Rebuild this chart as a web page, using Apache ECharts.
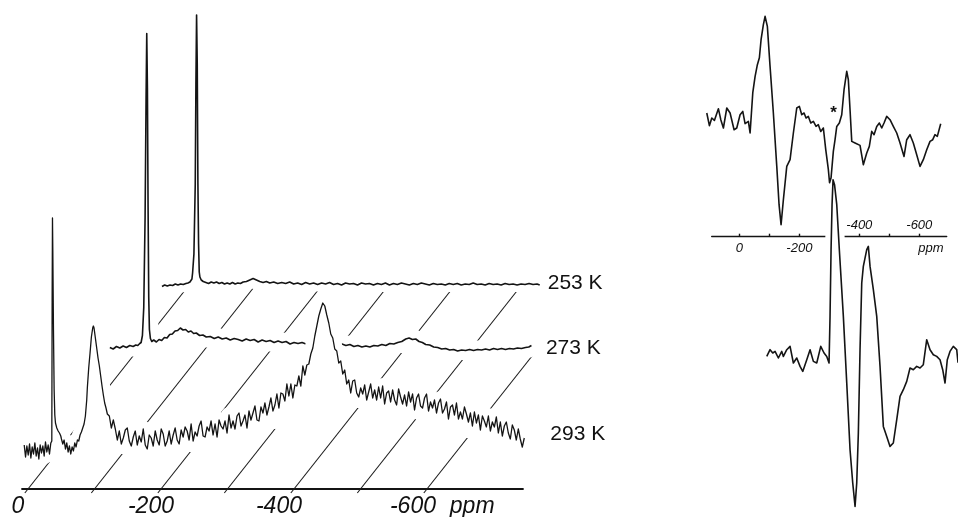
<!DOCTYPE html>
<html><head><meta charset="utf-8">
<script src="https://cdn.jsdelivr.net/npm/echarts@6/dist/echarts.min.js"></script>
<style>html,body{margin:0;padding:0;background:#fff}#c{width:958px;height:517px}</style>
</head><body><div id="c"></div>
<script>
// ---------------- DATA (ppm, intensity above own baseline) ----------------
const trace293 = [
[52,5],[50,-7],[48,4],[46,-5],[44,6],[42,-8],[40,3],[38,-4],[36,7],[34,-6],[32,2],[30,-9],[28,5],[26,-3],[24,4],[22,-6],[20,8],[18,-2],[16,5],[14,-4],[12,7],[10.5,9],[10,150],[9.5,232],[9,200],[8,120],[7,60],[6,35],[5,27],[3,22],[1,19],[-1,17],[-3,14],[-4,11],[-6,6],[-8,10],[-10,1],[-12,7],[-14,-2],[-16,4],[-18,-4],[-20,3],[-22,-1],[-24,7],[-26,3],[-28,10],[-30,9],[-32,15],[-34,18],[-36,22],[-38,26],[-40,34],[-42,50],[-43,63],[-45,82],[-47,97],[-49,113],[-51,122],[-52,124],[-53,122],[-55,112],[-57,102],[-59,92],[-61,84],[-63,74],[-65,64],[-67,55],[-69,47],[-71,42],[-73,36],
[-76,34],[-79,22],[-82,30],[-85,21],[-88,10],[-91,19],[-94,6],[-97,12],[-100,20],[-103,22],[-106,9],[-109,4],[-112,13],[-115,19],[-118,5],[-121,14],[-124,8],[-127,21],[-130,5],[-133,1],[-136,15],[-139,12],[-142,4],[-145,19],[-148,10],[-151,5],[-154,21],[-157,16],[-160,4],[-163,9],[-166,19],[-169,6],[-172,15],[-175,22],[-178,10],[-181,6],[-184,20],[-187,13],[-190,23],[-193,19],[-196,10],[-199,26],[-202,9],[-205,18],[-208,14],[-211,24],[-214,29],[-217,14],[-220,13],[-223,23],[-226,19],[-229,29],[-232,15],[-235,26],[-238,13],[-241,30],[-244,24],[-247,21],[-250,29],[-253,17],[-256,35],[-259,22],[-262,29],[-265,21],[-268,34],[-271,37],[-274,24],[-277,29],[-280,35],[-283,22],[-286,39],[-289,30],[-292,37],[-295,44],[-298,30],[-301,29],[-304,43],[-307,37],[-310,47],[-313,35],[-316,43],[-319,52],[-322,39],[-325,45],[-328,56],[-331,42],[-334,57],[-337,56],[-340,49],[-343,66],[-346,54],[-349,66],[-352,52],[-355,65],[-358,64],[-361,74],[-364,64],[-367,84],[-370,75],[-373,85],[-376,86],[-379,96],[-382,102],[-385,114],[-388,124],[-391,134],[-394,141],[-397,147],[-400,144],[-403,135],[-406,127],[-409,116],[-412,112],[-415,101],[-418,99],[-421,87],[-424,89],[-427,76],[-430,80],[-433,66],[-436,70],[-439,57],[-442,69],[-445,70],[-448,57],[-451,53],[-454,62],[-457,56],[-460,65],[-463,50],[-466,58],[-469,66],[-472,52],[-475,60],[-478,50],[-481,63],[-484,52],[-487,64],[-490,46],[-493,57],[-496,59],[-499,48],[-502,60],[-505,50],[-508,45],[-511,61],[-514,53],[-517,46],[-520,55],[-523,44],[-526,58],[-529,48],[-532,56],[-535,40],[-538,52],[-541,56],[-544,44],[-547,42],[-550,52],[-553,56],[-556,39],[-559,48],[-562,42],[-565,50],[-568,37],[-571,47],[-574,51],[-577,37],[-580,41],[-583,48],[-586,31],[-589,43],[-592,45],[-595,35],[-598,47],[-601,31],[-604,38],[-607,31],[-610,43],[-613,36],[-616,28],[-619,37],[-622,24],[-625,38],[-628,27],[-631,35],[-634,20],[-637,34],[-640,29],[-643,23],[-646,34],[-649,19],[-652,28],[-655,23],[-658,33],[-661,17],[-664,28],[-667,14],[-670,24],[-673,28],[-676,17],[-679,11],[-682,25],[-685,20],[-688,10],[-691,21],[-694,11],[-697,3],[-700,12]
];
const trace273 = [
[45,0],[40,-1.5],[35,1],[30,-0.5],[25,1.5],[20,0],[15,2],[10,1],[6,2.5],[3,2],[0,4],[-2,5],[-4,12],[-6,40],[-8,130],[-9.5,250],[-10.5,314],[-11.5,260],[-12.5,140],[-13.5,50],[-14.5,18],[-16,9],[-18,6],[-21,7.5],[-25,5.5],[-29,8],[-33,7],[-37,10],[-41,9.5],[-45,13],[-49,13.5],[-53,16.5],[-57,17],[-61,19.5],[-65,17.5],[-69,18],[-73,15.5],[-77,16.5],[-81,14],[-85,14.5],[-90,12],[-95,12.5],[-100,10.5],[-106,11],[-112,9],[-118,10.5],[-124,8.5],[-130,9.5],[-136,7.5],[-142,9],[-148,8],[-154,6.5],[-160,8.5],[-166,7],[-172,8],[-178,5.5],[-184,7.5],[-190,6],[-196,7],[-202,5],[-208,6.5],[-214,5],[-220,6],[-226,3.5],[-232,5],[-238,4],[-244,5],[-250,3.5],[-256,4.5],[-262,3],[-268,4.5],[-274,3.5],[-280,4],[-286,3],[-292,4],[-298,2.5],[-304,3.5],[-310,2],[-316,3],[-322,1],[-328,2],[-334,0.5],[-340,1.5],[-346,0.5],[-352,2],[-358,1.5],[-364,3],[-370,2],[-376,4],[-382,3.5],[-388,5],[-394,6],[-400,8.5],[-405,9.5],[-410,8],[-415,8.5],[-420,6],[-425,5],[-430,3],[-436,2.5],[-442,0.5],[-448,0],[-454,-1.5],[-460,-1],[-466,-2.5],[-472,-2],[-478,-3.5],[-484,-2.5],[-490,-3],[-496,-2],[-502,-3],[-508,-2],[-514,-2.5],[-520,-1.5],[-526,-2.5],[-532,-1],[-538,-2],[-544,-1],[-550,-2],[-556,-1],[-562,-1.5],[-568,-0.5],[-574,-1],[-580,0],[-585,0.5],[-589,2]
];
const trace253 = [
[42,-2.5],[38,-1],[34,-2],[30,-1],[26,-1.5],[22,0],[18,-1],[14,0],[10,-0.5],[6,0.5],[3,1],[0,2],[-3,5],[-4,11],[-6,30],[-8,100],[-9,200],[-10,269],[-11,220],[-12,100],[-13,40],[-14,12],[-15,7],[-17,4],[-20,2.5],[-24,1.5],[-28,0.5],[-32,2],[-36,1],[-40,2],[-44,0.5],[-48,1.5],[-52,0],[-56,1],[-60,0],[-64,1.5],[-68,0],[-72,1],[-76,0.5],[-80,2],[-85,2.5],[-90,4],[-95,5.5],[-100,4],[-105,2.5],[-110,1.5],[-115,2.5],[-120,1],[-126,2],[-132,0.5],[-138,1.5],[-144,0.5],[-150,2],[-156,0],[-162,1],[-168,-0.5],[-174,1.5],[-180,0],[-186,1],[-192,-0.5],[-198,1],[-204,0],[-210,1.5],[-216,-0.5],[-222,0.5],[-228,-1],[-234,1],[-240,0],[-246,0.5],[-252,-1],[-258,1],[-264,0],[-270,0.5],[-276,-1],[-282,0.5],[-288,-0.5],[-294,1],[-300,-1],[-306,0.5],[-312,-0.5],[-318,1],[-324,0],[-330,-1],[-336,0.5],[-342,-0.5],[-348,1],[-354,0],[-360,-1],[-366,0.5],[-372,-0.5],[-378,0],[-384,-1],[-390,0.5],[-396,-0.5],[-402,0.5],[-408,-1],[-414,0],[-420,-0.5],[-426,1],[-432,-0.5],[-438,0],[-444,-1],[-450,0.5],[-456,-0.5],[-462,0],[-468,-1],[-474,0.5],[-480,-0.5],[-486,0],[-492,-1],[-498,0],[-504,-0.5],[-510,0.5],[-516,-0.5],[-522,0],[-526,-1]
];
const traceNames = ['293 K', '273 K', '253 K'];
const guideTicks = [0, -100, -200, -300, -400, -500, -600];
const leftLabelValues = [0, -200, -400, -600, -668];
const leftLabelText = ['0', '-200', '-400', '-600', 'ppm'];

const rightTop = [
[108.7,6.7],[100,-6],[92,1.7],[83.3,-0.7],[70,11],[62,0],[53.3,-8.3],[42,11.7],[31,6.7],[17.7,-10],[8.7,-8.3],[-2.3,5],[-11.3,8.3],[-19,-4],[-30,-1.7],[-35.7,-13.3],[-38,-3],[-44.7,27],[-52.3,43],[-60,55],[-66.7,62],[-72.3,80],[-80,95],[-85.7,103.3],[-93.3,93.3],[-102.3,53.3],[-113.3,6.7],[-124.7,-46.7],[-132.3,-85],[-139,-105],[-146.7,-80],[-158,-46.7],[-169,-40],[-180,-13.3],[-191.3,11.7],[-200,13.3],[-208,5],[-215.7,6.7],[-222.3,1.7],[-230,3.3],[-238,-3.3],[-246.7,-1.7],[-255.7,-6.7],[-263.3,-5],[-271.3,-11.7],[-280,-8.3],[-288,-30],[-296.7,-50],[-300.7,-63],[-305.7,-58],[-313.3,-31.7],[-319,-20],[-324.7,-6.7],[-333.3,-3.3],[-341.3,5],[-349,30],[-358,48.3],[-363.3,40],[-369,10],[-374.7,-21.7],[-385.7,-23.3],[-402.3,-25.7],[-413.3,-45],[-424.7,-33.3],[-433.3,-26.7],[-441.3,-11.7],[-449,-15],[-458,-6.7],[-466.7,-3.3],[-474.7,-8.3],[-482.3,-3.3],[-491.3,3.3],[-502.3,0],[-513.3,-6.7],[-524.7,-13.3],[-535.7,-23.3],[-549,-36.7],[-558,-20],[-569,-15],[-580,-23.3],[-591.3,-35],[-602.3,-46.7],[-613.3,-40],[-624.7,-30],[-635.7,-21.7],[-644.7,-20],[-652.3,-15],[-660,-16.7],[-671.3,-4]
];
const rightBottom = [
[-91.3,-0.7],[-102.3,6],[-111.3,2.7],[-119,4.3],[-130,-2.3],[-141.3,4.3],[-146.7,-0.7],[-158,6],[-169,9.3],[-180,-7.3],[-191.3,-2.3],[-202.3,-10.7],[-211.3,-15.7],[-224.7,-4],[-235.7,6],[-246.7,-5.7],[-258,-7.3],[-271.3,9.3],[-282.3,2.7],[-291.3,-0.7],[-299,-7.3],[-302.3,39.3],[-305.7,106],[-309,151],[-312.3,176],[-317.3,171],[-324.7,151],[-333.3,106],[-346.7,39.3],[-358,-27.3],[-369,-94],[-378,-127.3],[-385.7,-150.7],[-391.3,-127.3],[-396.7,-77.3],[-402.3,6],[-408,72.7],[-413.3,89.3],[-424.7,106],[-430,109.3],[-435.7,89.3],[-446.7,66],[-458,39.3],[-469,-10.7],[-480,-70.7],[-491.3,-80.7],[-502.3,-90.7],[-513.3,-87.3],[-524.7,-64],[-535.7,-40.7],[-546.7,-34],[-558,-25.7],[-569,-12.3],[-580,-14],[-591.3,-10.7],[-602.3,-12.3],[-613.3,-9],[-624.7,16],[-635.7,6],[-646.7,1],[-658,-0.7],[-669,-4],[-678,-14],[-685.7,-27.3],[-693.3,-4],[-702.3,4.3],[-713.3,9.3],[-724.7,6],[-729,-7]
];
const asteriskMark = [-314, 10];
const rightTickValues = [0, -100, -200, -400, -500, -600];
const rightLabelsBelow = [0, -200, -639];
const rightLabelsBelowText = ['0', '-200', 'ppm'];
const rightLabelsAbove = [-400, -600];
const rightLabelsAboveText = ['-400', '-600'];

// ---------------- LAYOUT / STYLE ----------------
const FONT = 'Liberation Sans';
const INK = '#141414';
const SKEW = 0.79 / 0.665;       // ppm shift per unit of depth (perspective)
const DEPTH = {'293 K': 39, '273 K': 141.5, '253 K': 205};
const GUIDE_BELOW = 4;
const TOP_BASE = 117, BOTTOM_BASE = -119;
const traces = {'293 K': trace293, '273 K': trace273, '253 K': trace253};
const TRACE_STYLE = {
  '293 K': {z: 8, win: 25, floorMin: 3, halo: 8, lw: 1.3, lx: 26, ly: -3.5},
  '273 K': {z: 6, win: 12, floorMin: -99, halo: 9, lw: 1.6, lx: 14.5, ly: 2.5},
  '253 K': {z: 4, win: 12, floorMin: -99, halo: 7, lw: 1.6, lx: 8, ly: -1.5}
};
const LEFT_LABEL_SHIFT = [-10, -10, -15, -14, 0];

function guideTop(t) {
  const order = traceNames.slice().sort((a, b) => DEPTH[b] - DEPTH[a]);
  for (const n of order) {
    const ps = traces[n].map(d => d[0]);
    const lo = Math.min.apply(null, ps), hi = Math.max.apply(null, ps);
    if (t >= lo - 20 && t <= hi + 20) return DEPTH[n];
  }
  return 0;
}

function traceSeries(name) {
  const data = traces[name], depth = DEPTH[name], st = TRACE_STYLE[name];
  const toXY = (p, v, api) => api.coord([p - SKEW * depth, v + depth]);
  return {
    type: 'custom', name: name, xAxisIndex: 0, yAxisIndex: 0, z: st.z, clip: false, silent: true,
    data: [[0, 0]],
    renderItem: function (params, api) {
      const top = data.map(d => toXY(d[0], d[1], api));
      const floor = [];
      for (let i = data.length - 1; i >= 0; i--) {
        let m = Infinity;
        for (let j = 0; j < data.length; j++) {
          if (Math.abs(data[j][0] - data[i][0]) <= st.win) m = Math.min(m, data[j][1]);
        }
        floor.push(toXY(data[i][0], Math.max(m, st.floorMin), api));
      }
      const last = top[top.length - 1];
      return {type: 'group', children: [
        {type: 'polygon', shape: {points: top.concat(floor)},
         style: {fill: '#fff', stroke: '#fff', lineWidth: st.halo * 2, lineJoin: 'round'}},
        {type: 'polyline', shape: {points: top},
         style: {fill: 'none', stroke: INK, lineWidth: st.lw, lineJoin: 'round'}},
        {type: 'text', x: last[0] + st.lx, y: last[1] + st.ly,
         style: {text: name, fill: '#111', font: '21px "' + FONT + '"', align: 'left', verticalAlign: 'middle'}}
      ]};
    }
  };
}

function rightSeries(data, base, opts) {
  return {
    type: 'custom', xAxisIndex: 1, yAxisIndex: 1, z: opts.z, clip: false, silent: true,
    data: [[0, 0]],
    renderItem: function (params, api) {
      const pts = data.map(d => api.coord([d[0], d[1] + base]));
      const ch = [];
      if (opts.halo) ch.push({type: 'polyline', shape: {points: pts},
        style: {fill: 'none', stroke: '#fff', lineWidth: opts.halo * 2, lineJoin: 'round', lineCap: 'round'}});
      ch.push({type: 'polyline', shape: {points: pts},
        style: {fill: 'none', stroke: INK, lineWidth: 1.6, lineJoin: 'round'}});
      if (opts.mark) {
        const a = api.coord([opts.mark[0], opts.mark[1] + base]);
        ch.push({type: 'text', x: a[0], y: a[1] + 4,
          style: {text: '*', fill: '#111', font: 'bold 17px "' + FONT + '"', align: 'center', verticalAlign: 'middle'}});
      }
      return {type: 'group', children: ch};
    }
  };
}

const leftRich = {};
LEFT_LABEL_SHIFT.forEach((s, i) => {
  leftRich['r' + i] = {fontStyle: 'italic', fontSize: 23, fontFamily: FONT, color: '#111',
    padding: s < 0 ? [0, -2 * s, 0, 0] : [0, 0, 0, 2 * s]};
});

const smallLabel = {fontStyle: 'italic', fontSize: 13, fontFamily: FONT, color: '#111'};

const option = {
  animation: false,
  backgroundColor: '#fff',
  grid: [
    {left: 22, right: 435, top: 0, bottom: 28, containLabel: false, outerBoundsMode: 'none'},
    {left: 711.7, right: 11.3, top: 0, height: 236.7, containLabel: false, outerBoundsMode: 'none'},
    {left: 711.7, right: 11.3, top: 236.7, height: 100, containLabel: false, outerBoundsMode: 'none'}
  ],
  xAxis: [
    {gridIndex: 0, type: 'value', min: -744.4, max: 9, inverse: true,
     axisLine: {show: true, onZero: false, lineStyle: {color: INK, width: 1.8}},
     axisTick: {show: false}, splitLine: {show: false},
     axisLabel: {customValues: leftLabelValues, margin: 6, rich: leftRich,
       formatter: function (v) { const i = leftLabelValues.indexOf(v); return '{r' + i + '|' + leftLabelText[i] + '}'; }}},
    {gridIndex: 1, type: 'value', position: 'bottom', min: -691.3, max: 92.3, inverse: true,
     axisLine: {show: true, onZero: false, lineStyle: {color: INK, width: 1.4}},
     axisTick: {show: true, inside: true, length: 3, customValues: rightTickValues, lineStyle: {color: INK, width: 1.4}},
     splitLine: {show: false},
     axisLabel: Object.assign({customValues: rightLabelsBelow, margin: 5,
       formatter: function (v) { return rightLabelsBelowText[rightLabelsBelow.indexOf(v)]; }}, smallLabel)},
    {gridIndex: 2, type: 'value', position: 'top', min: -691.3, max: 92.3, inverse: true,
     axisLine: {show: false, onZero: false}, axisTick: {show: false}, splitLine: {show: false},
     axisLabel: Object.assign({customValues: rightLabelsAbove, margin: 5,
       formatter: function (v) { return rightLabelsAboveText[rightLabelsAbove.indexOf(v)]; }}, smallLabel)}
  ],
  yAxis: [
    {gridIndex: 0, type: 'value', min: 0, max: 489, show: false},
    {gridIndex: 1, type: 'value', min: 0, max: 236.7, show: false},
    {gridIndex: 2, type: 'value', min: 0, max: 1, show: false}
  ],
  series: [
    {type: 'custom', xAxisIndex: 0, yAxisIndex: 0, z: 2, clip: false, silent: true,
     data: guideTicks.map(t => [t, 0]),
     renderItem: function (params, api) {
       const t = api.value(0);
       const h = guideTop(t);
       const a = api.coord([t + SKEW * GUIDE_BELOW, -GUIDE_BELOW]);
       const b = api.coord([t - SKEW * h, h]);
       return {type: 'line', shape: {x1: a[0], y1: a[1], x2: b[0], y2: b[1]},
               style: {stroke: '#1c1c1c', lineWidth: 1.1}};
     }},
    traceSeries('253 K'),
    traceSeries('273 K'),
    traceSeries('293 K'),
    rightSeries(rightBottom, BOTTOM_BASE, {z: 3, halo: 6}),
    rightSeries(rightTop, TOP_BASE, {z: 4, mark: asteriskMark})
  ]
};

const chart = echarts.init(document.getElementById('c'), null, {renderer: 'canvas'});
chart.setOption(option);
</script>
</body></html>
